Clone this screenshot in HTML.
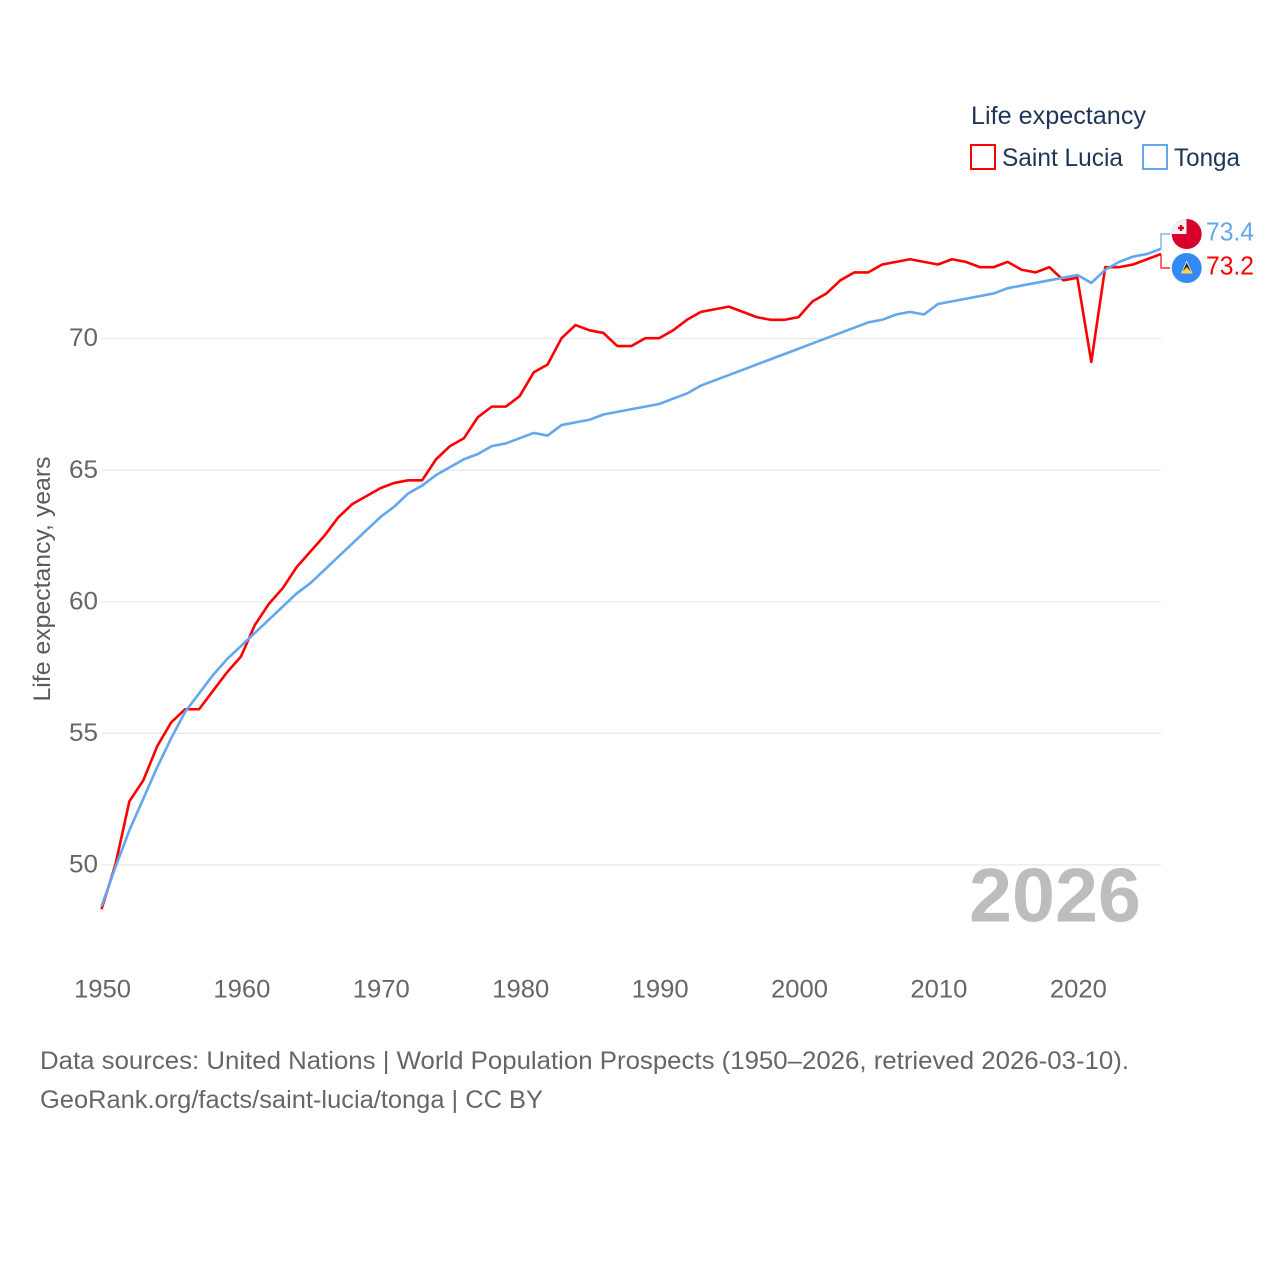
<!DOCTYPE html>
<html lang="en">
<head>
<meta charset="utf-8">
<title>Life expectancy: Saint Lucia and Tonga</title>
<style>
html,body{margin:0;padding:0;background:#fff;width:1280px;height:1280px;overflow:hidden}
svg{display:block}
text{font-family:"Liberation Sans",sans-serif}
</style>
</head>
<body>
<svg id="chart" width="1280" height="1280" viewBox="0 0 1280 1280" xmlns="http://www.w3.org/2000/svg">
  <rect width="1280" height="1280" fill="#fff"/>
  <g id="grid"></g>
  <g id="yticks"></g>
  <g id="xticks"></g>
  <text transform="translate(50,579) rotate(-90)" text-anchor="middle" font-size="24" fill="#5b5b5b" textLength="245" lengthAdjust="spacingAndGlyphs">Life expectancy, years</text>
  <text x="969" y="921.5" font-size="76" font-weight="700" fill="#bdbdbd" textLength="172" lengthAdjust="spacingAndGlyphs">2026</text>
  <g id="series"></g>
  <g id="endlabels"></g>
  <text x="971" y="124" font-size="25" fill="#1d3557" textLength="175" lengthAdjust="spacingAndGlyphs">Life expectancy</text>
  <g>
    <rect x="971" y="145" width="24" height="24" fill="#fff" stroke="#ff0000" stroke-width="2"/>
    <text x="1002" y="166" font-size="25" fill="#1d3557" textLength="121" lengthAdjust="spacingAndGlyphs">Saint Lucia</text>
  </g>
  <g>
    <rect x="1143" y="145" width="24" height="24" fill="#fff" stroke="#63a7ee" stroke-width="2"/>
    <text x="1174" y="166" font-size="25" fill="#1d3557" textLength="66" lengthAdjust="spacingAndGlyphs">Tonga</text>
  </g>
  <text x="40" y="1069" font-size="25" fill="#666" textLength="1089" lengthAdjust="spacingAndGlyphs">Data sources: United Nations | World Population Prospects (1950–2026, retrieved 2026-03-10).</text>
  <text x="40" y="1108" font-size="25" fill="#666" textLength="503" lengthAdjust="spacingAndGlyphs">GeoRank.org/facts/saint-lucia/tonga | CC BY</text>
</svg>
<script>
const startYear = 1950;
const xTickLabels = [1950, 1960, 1970, 1980, 1990, 2000, 2010, 2020];
const yTickLabels = [50, 55, 60, 65, 70];
const saintLucia = [
  48.3, 50.0, 52.4, 53.2, 54.5, 55.4, 55.9, 55.9, 56.6, 57.3,
  57.9, 59.1, 59.9, 60.5, 61.3, 61.9, 62.5, 63.2, 63.7, 64.0,
  64.3, 64.5, 64.6, 64.6, 65.4, 65.9, 66.2, 67.0, 67.4, 67.4,
  67.8, 68.7, 69.0, 70.0, 70.5, 70.3, 70.2, 69.7, 69.7, 70.0,
  70.0, 70.3, 70.7, 71.0, 71.1, 71.2, 71.0, 70.8, 70.7, 70.7,
  70.8, 71.4, 71.7, 72.2, 72.5, 72.5, 72.8, 72.9, 73.0, 72.9,
  72.8, 73.0, 72.9, 72.7, 72.7, 72.9, 72.6, 72.5, 72.7, 72.2,
  72.3, 69.1, 72.7, 72.7, 72.8, 73.0, 73.2
];
const tonga = [
  48.4, 49.9, 51.3, 52.5, 53.7, 54.8, 55.8, 56.5, 57.2, 57.8,
  58.3, 58.8, 59.3, 59.8, 60.3, 60.7, 61.2, 61.7, 62.2, 62.7,
  63.2, 63.6, 64.1, 64.4, 64.8, 65.1, 65.4, 65.6, 65.9, 66.0,
  66.2, 66.4, 66.3, 66.7, 66.8, 66.9, 67.1, 67.2, 67.3, 67.4,
  67.5, 67.7, 67.9, 68.2, 68.4, 68.6, 68.8, 69.0, 69.2, 69.4,
  69.6, 69.8, 70.0, 70.2, 70.4, 70.6, 70.7, 70.9, 71.0, 70.9,
  71.3, 71.4, 71.5, 71.6, 71.7, 71.9, 72.0, 72.1, 72.2, 72.3,
  72.4, 72.1, 72.6, 72.9, 73.1, 73.2, 73.4
];

const NS = 'http://www.w3.org/2000/svg';
function xScale(year) { return 101.5 + (year - 1950) * (1161 - 101.5) / 76; }
function yScale(v) { return 864.5 - (v - 50) * (864.5 - 338.2) / 20; }
function make(tag, attrs, parent, txt) {
  const el = document.createElementNS(NS, tag);
  for (const k in attrs) el.setAttribute(k, attrs[k]);
  if (txt !== undefined) el.textContent = txt;
  parent.appendChild(el);
  return el;
}

const gridG = document.getElementById('grid');
const yG = document.getElementById('yticks');
yTickLabels.forEach(function (v) {
  const line = make('line', {x1: 102, x2: 1161, y1: yScale(v) + 0.4, y2: yScale(v) + 0.4, stroke: '#e8e8e8', 'stroke-width': 1.3}, gridG);
  
  
  const t = make('text', {x: 98, y: yScale(v) + 8, 'text-anchor': 'end', 'font-size': 25, fill: '#666', textLength: 29, lengthAdjust: 'spacingAndGlyphs'}, yG, String(v));
  
  
});

const xG = document.getElementById('xticks');
xTickLabels.forEach(function (yr) {
  const t = make('text', {x: xScale(yr) + 1, y: 997.5, 'text-anchor': 'middle', 'font-size': 25, fill: '#666', textLength: 57, lengthAdjust: 'spacingAndGlyphs'}, xG, String(yr));
  
  
});

function pathFor(values) {
  return values.map(function (v, i) {
    return (i ? 'L' : 'M') + xScale(startYear + i).toFixed(2) + ' ' + yScale(v).toFixed(2);
  }).join(' ');
}
const sG = document.getElementById('series');
const redLine = make('path', {d: pathFor(saintLucia), fill: 'none', stroke: '#ff0000', 'stroke-width': 2.6, 'stroke-linejoin': 'round'}, sG);


const blueLine = make('path', {d: pathFor(tonga), fill: 'none', stroke: '#63a7ee', 'stroke-width': 2.6, 'stroke-linejoin': 'round'}, sG);



const eG = document.getElementById('endlabels');
const lastRed = saintLucia[saintLucia.length - 1];
const lastBlue = tonga[tonga.length - 1];
const xEnd = xScale(startYear + tonga.length - 1);

const blueConn = make('path', {d: 'M' + xEnd + ' ' + yScale(lastBlue) + ' V234 H1170', fill: 'none', stroke: '#63a7ee', 'stroke-width': 1.2}, eG);


const redConn = make('path', {d: 'M' + xEnd + ' ' + yScale(lastRed) + ' V268 H1170', fill: 'none', stroke: '#ff0000', 'stroke-width': 1.2}, eG);



const clip = make('clipPath', {id: 'tongaClip'}, eG);
make('circle', {cx: 1186.7, cy: 234, r: 15}, clip);
const tongaFlag = make('g', {'clip-path': 'url(#tongaClip)'}, eG);


make('rect', {x: 1171, y: 218, width: 32, height: 32, fill: '#d7002b'}, tongaFlag);
make('rect', {x: 1171, y: 218, width: 15.5, height: 16, fill: '#f0f0f0'}, tongaFlag);
make('rect', {x: 1178, y: 226.8, width: 6, height: 2.4, fill: '#d7002b'}, tongaFlag);
make('rect', {x: 1179.8, y: 225, width: 2.4, height: 6, fill: '#d7002b'}, tongaFlag);

const lucia = make('g', {}, eG);


make('circle', {cx: 1186.7, cy: 268, r: 15, fill: '#338af3'}, lucia);
make('path', {d: 'M1186.7 260.5 L1192.5 273.5 H1181 Z', fill: '#f5f5f5'}, lucia);
make('path', {d: 'M1186.7 262.5 L1191 272 H1182.5 Z', fill: '#222'}, lucia);
make('path', {d: 'M1186.7 267 L1192.5 273.5 H1181 Z', fill: '#ffd04a'}, lucia);

const blueVal = make('text', {x: 1206, y: 240.5, 'font-size': 26, fill: '#63a7ee', textLength: 48, lengthAdjust: 'spacingAndGlyphs'}, eG, lastBlue.toFixed(1));


const redVal = make('text', {x: 1206, y: 274.5, 'font-size': 26, fill: '#ff0000', textLength: 48, lengthAdjust: 'spacingAndGlyphs'}, eG, lastRed.toFixed(1));


</script>
</body>
</html>
